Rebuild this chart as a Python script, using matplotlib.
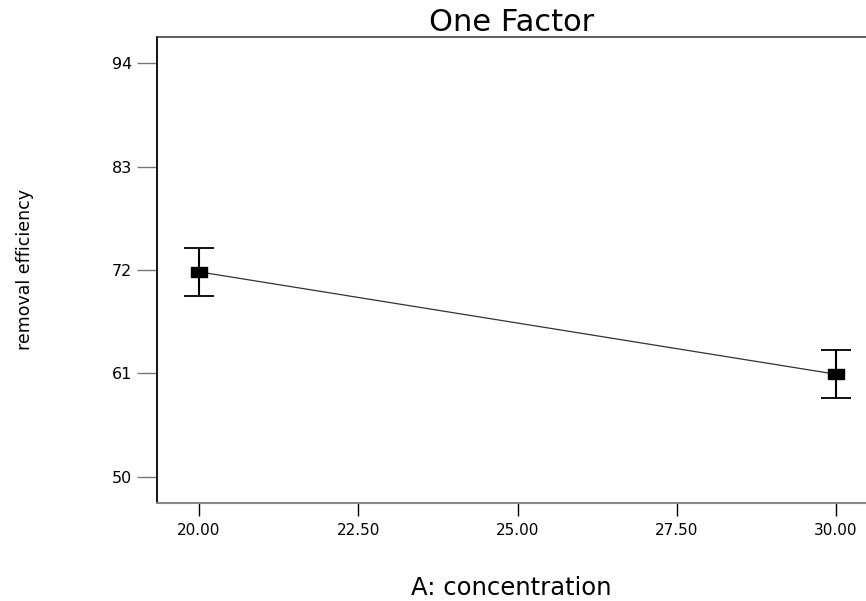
import numpy as np
import matplotlib
matplotlib.use("Agg")
import matplotlib.pyplot as plt

# data
concentration = np.array([20.0, 30.0])
efficiency = np.array([71.8, 60.9])
err = np.array([2.55, 2.55])

x_ticks = [20.0, 22.5, 25.0, 27.5, 30.0]
x_ticklabels = ["20.00", "22.50", "25.00", "27.50", "30.00"]
y_ticks = [50, 61, 72, 83, 94]

plt.rcParams['font.family'] = ['DejaVu Sans']

fig = plt.figure(figsize=(8.66, 6.01), dpi=100)
ax = fig.add_axes([0.1813, 0.1636, 0.8187, 0.7744])

rect = [(-1, -0.6), (1, -0.6), (1, 0.6), (-1, 0.6), (-1, -0.6)]

ax.plot(concentration, efficiency, color="#333333", lw=0.9, zorder=2)
ax.errorbar(concentration, efficiency, yerr=err, fmt="none", ecolor="black",
            elinewidth=1.5, capsize=10.8, capthick=1.3, zorder=3)
ax.plot(concentration, efficiency, ls="none", marker=rect, markersize=11,
        color="black", zorder=4)

ax.set_xlim(19.34, 30.47)
ax.set_ylim(47.23, 96.77)
ax.set_xticks(x_ticks)
ax.set_xticklabels(x_ticklabels)
ax.set_yticks(y_ticks)

ax.tick_params(axis="y", length=14.4, width=1.0, color="#777777", pad=3.6,
               labelsize=11.5)
ax.tick_params(axis="x", length=9.4, width=1.0, color="black", pad=5,
               labelsize=11)

ax.spines["right"].set_visible(False)
ax.spines["left"].set_color("black")
ax.spines["left"].set_linewidth(1.3)
ax.spines["top"].set_color("#333333")
ax.spines["top"].set_linewidth(1.1)
ax.spines["bottom"].set_color("#888888")
ax.spines["bottom"].set_linewidth(1.5)

ax.set_title("One Factor", fontsize=22, pad=4)
ax.set_xlabel("A: concentration", fontsize=17.5)
ax.xaxis.set_label_coords(0.5, -0.158)
ax.set_ylabel("removal efficiency", fontsize=12.5, va="center")
ax.yaxis.set_label_coords(-0.186, 0.5)

fig.savefig("out.png", dpi=100)
